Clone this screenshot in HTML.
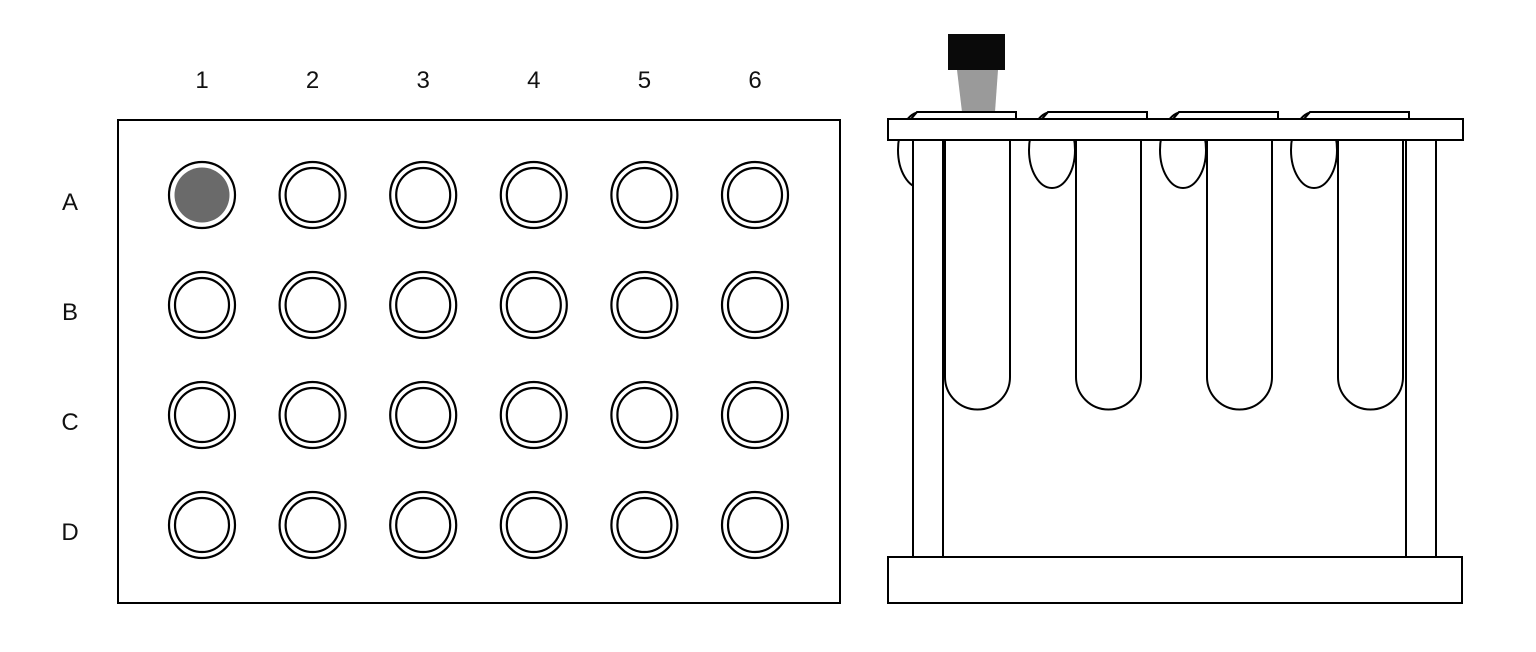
<!DOCTYPE html>
<html><head><meta charset="utf-8"><style>
html,body{margin:0;padding:0;background:#fff;}
svg{display:block;}
text{font-family:"Liberation Sans",sans-serif;font-size:24px;fill:#111;}
</style></head><body>
<svg width="1536" height="652" viewBox="0 0 1536 652">
<rect x="118" y="120" width="722" height="483" fill="none" stroke="#000" stroke-width="2"/>
<g id="plate"></g>
<g fill="#fff" stroke="#000" stroke-width="2">
  <rect x="948" y="34" width="57" height="36" fill="#0a0a0a" stroke="none"/>
  <polygon points="957,70 998,70 995,112 962,112" fill="#9a9a9a" stroke="none"/>
  <g id="tubes"></g>
  <rect x="888" y="119" width="575" height="21"/>
  <rect x="913" y="140" width="30" height="417"/>
  <rect x="1406" y="140" width="30" height="417"/>
  <rect x="888" y="557" width="574" height="46"/>
</g>
</svg>
<script>
const cols=["1","2","3","4","5","6"];
const rows=["A","B","C","D"];
const filled=[["A","1"]];
const tubeCount=[1,2,3,4];
const NS="http://www.w3.org/2000/svg";
function mk(t,a,p){const e=document.createElementNS(NS,t);for(const k in a)e.setAttribute(k,a[k]);p.appendChild(e);return e;}
const plate=document.getElementById('plate');
const cx=i=>202+i*110.6, cy=j=>195+j*110;
cols.forEach((c,i)=>{const t=mk('text',{x:cx(i),y:88,'text-anchor':'middle'},plate);t.textContent=c;

});
rows.forEach((r,j)=>{const t=mk('text',{x:70,y:cy(j)+15,'text-anchor':'middle'},plate);t.textContent=r;


cols.forEach((c,i)=>{const g=mk('g',{},plate);


mk('circle',{cx:cx(i),cy:cy(j),r:33,fill:'#fff',stroke:'#000','stroke-width':2.2},g);
const f=filled.some(p=>p[0]===r&&p[1]===c);
if(f) mk('circle',{cx:cx(i),cy:cy(j),r:27.5,fill:'#6a6a6a'},g);
else mk('circle',{cx:cx(i),cy:cy(j),r:27,fill:'none',stroke:'#000','stroke-width':2.2},g);});});
const tubes=document.getElementById('tubes');
tubeCount.forEach((n,k)=>{const x=945+k*131;
const lp=mk('ellipse',{cx:x-24,cy:150,rx:23,ry:38,fill:'#fff'},tubes);

});
tubeCount.forEach((n,k)=>{const x=945+k*131,g=mk('g',{},tubes);


mk('path',{d:`M${x-34} 119 L${x-28} 112 L${x+71} 112 L${x+71} 119`,fill:'#fff'},g);
mk('path',{d:`M${x} 140 L${x} 377 A32.5 32.5 0 0 0 ${x+65} 377 L${x+65} 140`,fill:'#fff'},g);});
</script>
</body></html>
